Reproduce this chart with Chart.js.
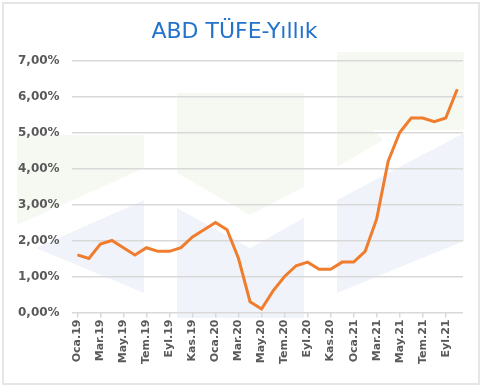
<!DOCTYPE html>
<html>
<head>
<meta charset="utf-8">
<script src="https://cdn.jsdelivr.net/npm/chart.js@4/dist/chart.umd.min.js"></script>
<style>
  html, body { margin: 0; padding: 0; background: #ffffff; }
  #wrap { position: absolute; left: 0; top: 0; width: 483px; height: 391px; }
</style>
</head>
<body>
<div id="wrap"><canvas id="chart" width="483" height="391"></canvas></div>
<script>

// months Oca.19 .. Eki.21
const months = ['Oca', 'Şub', 'Mar', 'Nis', 'May', 'Haz', 'Tem', 'Ağu', 'Eyl', 'Eki', 'Kas', 'Ara'];
const years = ['19', '20', '21'];

const labels = [];
for (const y of years) {
    for (const m of months) {
        labels.push(m + '.' + y);
    }
}
labels.length = 34;

// yearly CPI, percent
const cpi = [1.6, 1.5, 1.9, 2.0, 1.8, 1.6, 1.8, 1.7, 1.7, 1.8, 2.1, 2.3,
             2.5, 2.3, 1.5, 0.3, 0.1, 0.6, 1.0, 1.3, 1.4, 1.2, 1.2, 1.4,
             1.4, 1.7, 2.6, 4.2, 5.0, 5.4, 5.4, 5.3, 5.4, 6.2];

const yMin = 0;
const yMax = 7;
const yStep = 1;

const textGray = '#595959';
const lineOrange = '#ef7d2d';

// faint logo in the background + outer frame
const backdrop = {
    id: 'backdrop',
    beforeDraw(chart) {
        const c = chart.ctx;
        c.save();
        c.fillStyle = '#ffffff';
        c.fillRect(0, 0, chart.width, chart.height);

        const poly = (pts, col) => {
            c.beginPath();
            c.moveTo(pts[0][0], pts[0][1]);
            for (let i = 1; i < pts.length; i++) c.lineTo(pts[i][0], pts[i][1]);
            c.closePath();
            c.fillStyle = col;
            c.fill();
        };
        const green = '#f6f9f2';
        const blue = '#f0f4fa';
        poly([[17, 135], [144, 135], [144, 168], [17, 225]], green);
        poly([[144, 200], [36, 248], [144, 293]], blue);
        poly([[177, 93], [304, 93], [304, 187], [250, 215], [177, 173]], green);
        poly([[177, 208], [250, 248], [304, 218], [304, 318], [177, 318]], blue);
        poly([[337, 52], [464, 52], [464, 130], [373, 130], [383, 140], [337, 167]], green);
        poly([[337, 200], [464, 133], [464, 241], [337, 293]], blue);

        c.strokeStyle = '#e6e6e6';
        c.lineWidth = 2;
        c.strokeRect(3, 3, 476, 381);
        c.restore();
    }
};

new Chart(document.getElementById('chart'), {
    type: 'line',
    data: {
        labels: labels,
        datasets: [{
            label: 'ABD TÜFE-Yıllık',
            data: cpi,
            borderColor: lineOrange,
            backgroundColor: lineOrange,
            borderWidth: 3,
            pointRadius: 0,
            tension: 0
        }]
    },
    options: {
        responsive: false,
        animation: false,
        layout: {
            padding: { left: 6, right: 20, top: 8, bottom: 25 }
        },
        plugins: {
            legend: { display: false },
            tooltip: { enabled: false },
            title: {
                display: true,
                text: 'ABD TÜFE-Yıllık',
                color: '#2373cc',
                font: { family: 'DejaVu Sans', size: 22, weight: 'normal' },
                padding: { top: 11, bottom: 15 }
            }
        },
        scales: {
            x: {
                offset: true,
                grid: {
                    display: true,
                    drawOnChartArea: false,
                    drawTicks: true,
                    tickLength: 5,
                    color: '#d9d9d9',
                    lineWidth: 1.5
                },
                border: { display: false },
                ticks: {
                    color: textGray,
                    font: { family: 'DejaVu Sans', size: 11, weight: 'bold' },
                    minRotation: 90,
                    maxRotation: 90,
                    autoSkip: true,
                    padding: 2
                }
            },
            y: {
                min: yMin,
                max: yMax,
                grid: {
                    color: '#d9d9d9',
                    lineWidth: 1.5,
                    drawTicks: false
                },
                border: { display: false },
                ticks: {
                    stepSize: yStep,
                    color: textGray,
                    padding: 12,
                    font: { family: 'DejaVu Sans', size: 12, weight: 'bold' },
                    callback: v => v.toFixed(2).replace('.', ',') + '%'
                }
            }
        }
    },
    plugins: [backdrop]
});
</script>
</body>
</html>
